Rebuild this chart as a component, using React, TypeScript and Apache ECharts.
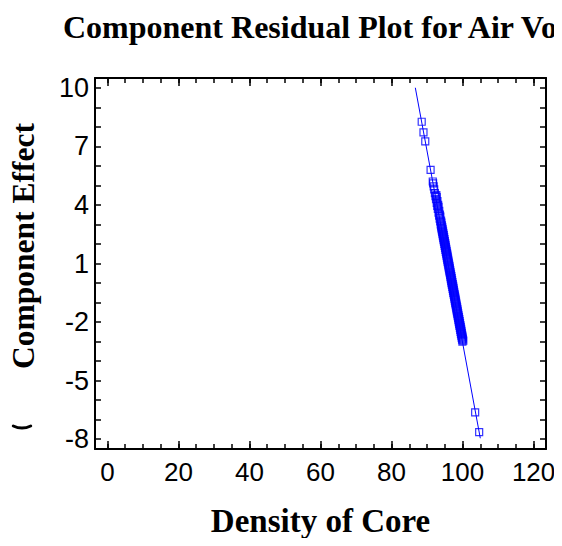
import React, { useEffect, useRef } from "react";
import * as echarts from "echarts";

const xMajorTicks = [0, 20, 40, 60, 80, 100, 120];
const xMinorTicks = [0, 5, 10, 15, 20, 25, 30, 35, 40, 45, 50, 55, 60, 65, 70, 75, 80, 85, 90, 95, 100, 105, 110, 115, 120];
const yLabelTicks = [-8, -5, -2, 1, 4, 7, 10];
const yAllTicks = [-8, -7, -6, -5, -4, -3, -2, -1, 0, 1, 2, 3, 4, 5, 6, 7, 8, 9, 10];

const densityOfCore = [
  88.5, 89.0, 89.5, 91.0,
  91.61, 91.71, 91.87, 92.02, 92.22, 92.38, 92.53, 92.73, 92.88, 93.04, 93.24, 93.39, 93.55, 93.7, 93.85,
  93.95, 94.05, 94.16, 94.26, 94.36, 94.46, 94.56, 94.66, 94.77, 94.87, 94.97, 95.07, 95.17, 95.28, 95.38,
  95.48, 95.58, 95.68, 95.78, 95.89, 95.99, 96.09, 96.19, 96.29, 96.4, 96.5, 96.6, 96.7, 96.8, 96.9,
  97.0, 97.11, 97.21, 97.31, 97.41, 97.51, 97.62, 97.72, 97.82, 97.92, 98.02, 98.13, 98.23, 98.33, 98.43,
  98.53, 98.63, 98.74, 98.84, 98.94, 99.04, 99.14, 99.25, 99.35, 99.45, 99.55, 99.65, 99.75, 99.86, 99.96,
  92.62, 92.73, 92.93, 93.13, 93.24, 93.44, 93.64, 93.74, 93.95, 94.05,
  94.2, 94.3, 94.41, 94.51, 94.61, 94.71, 94.81, 94.91, 95.02, 95.12, 95.22, 95.32, 95.42, 95.53, 95.63,
  95.73, 95.83, 95.93, 96.03, 96.14, 96.24, 96.34, 96.44, 96.54, 96.65, 96.75, 96.85, 96.95, 97.05, 97.15,
  97.25, 97.36, 97.46, 97.56, 97.66, 97.76, 97.87, 97.97, 98.07, 98.17, 98.27, 98.38, 98.48, 98.58, 98.68,
  98.78, 98.88, 98.99, 99.09, 99.19, 99.29, 99.39, 99.5, 99.6, 99.7, 99.8, 99.9, 100.0, 100.11, 100.21,
  103.55, 104.68,
];
const componentEffect = [
  8.26, 7.72, 7.25, 5.79,
  5.2, 5.1, 4.95, 4.8, 4.6, 4.45, 4.3, 4.1, 3.95, 3.8, 3.6, 3.45, 3.3, 3.15, 3.0,
  2.9, 2.8, 2.7, 2.6, 2.5, 2.4, 2.3, 2.2, 2.1, 2.0, 1.9, 1.8, 1.7, 1.6, 1.5,
  1.4, 1.3, 1.2, 1.1, 1.0, 0.9, 0.8, 0.7, 0.6, 0.5, 0.4, 0.3, 0.2, 0.1, 0.0,
  -0.1, -0.2, -0.3, -0.4, -0.5, -0.6, -0.7, -0.8, -0.9, -1.0, -1.1, -1.2, -1.3, -1.4, -1.5,
  -1.6, -1.7, -1.8, -1.9, -2.0, -2.1, -2.2, -2.3, -2.4, -2.5, -2.6, -2.7, -2.8, -2.9, -3.0,
  4.5, 4.4, 4.2, 4.0, 3.9, 3.7, 3.5, 3.4, 3.2, 3.1,
  2.95, 2.85, 2.75, 2.65, 2.55, 2.45, 2.35, 2.25, 2.15, 2.05, 1.95, 1.85, 1.75, 1.65, 1.55,
  1.45, 1.35, 1.25, 1.15, 1.05, 0.95, 0.85, 0.75, 0.65, 0.55, 0.45, 0.35, 0.25, 0.15, 0.05,
  -0.05, -0.15, -0.25, -0.35, -0.45, -0.55, -0.65, -0.75, -0.85, -0.95, -1.05, -1.15, -1.25, -1.35, -1.45,
  -1.55, -1.65, -1.75, -1.85, -1.95, -2.05, -2.15, -2.25, -2.35, -2.45, -2.55, -2.65, -2.75, -2.85, -2.95,
  -6.62, -7.64,
];
const fitLineX = [86.7, 105.0];
const fitLineY = [10.0, -7.95];

const X_MIN = -3.5;
const X_MAX = 123.5;
const Y_MIN = -8.5;
const Y_MAX = 10.5;

const serif = '"Liberation Serif", "Times New Roman", serif';
const sans = '"Liberation Sans", Arial, sans-serif';

export default function App() {
  const ref = useRef<HTMLDivElement>(null);
  useEffect(() => {
    if (!ref.current) return;
    const chart = echarts.init(ref.current, null, { renderer: "svg" });
    const black = "#000000";
    const blue = "#0000FF";
    const baseX = {
      type: "value" as const,
      min: X_MIN,
      max: X_MAX,
      splitLine: { show: false },
      axisLabel: { show: false },
    };
    const baseY = {
      type: "value" as const,
      min: Y_MIN,
      max: Y_MAX,
      splitLine: { show: false },
      axisLabel: { show: false },
    };
    chart.setOption({
      animation: false,
      backgroundColor: "#ffffff",
      title: {
        text: "Component Residual Plot for Air Vo",
        left: 58,
        top: 6,
        textStyle: { fontFamily: serif, fontWeight: "bold", fontSize: 32, color: black },
      },
      grid: { left: 95, right: 16, top: 78, bottom: 97, show: false },
      xAxis: [
        {
          ...baseX,
          position: "bottom",
          axisLine: { show: true, onZero: false, lineStyle: { color: black, width: 2 } },
          axisTick: { show: true, inside: true, length: 8, customValues: xMajorTicks, lineStyle: { color: black, width: 1.5 } },
          axisLabel: { show: true, customValues: xMajorTicks, fontFamily: sans, fontSize: 26, color: black, margin: 10 },
          name: "Density of Core",
          nameLocation: "middle",
          nameGap: 55,
          nameTextStyle: { fontFamily: serif, fontWeight: "bold", fontSize: 33, color: black },
        },
        {
          ...baseX,
          position: "bottom",
          axisLine: { show: false, onZero: false },
          axisTick: { show: true, inside: true, length: 5, customValues: xMinorTicks, lineStyle: { color: black, width: 1.5 } },
        },
        {
          ...baseX,
          position: "top",
          axisLine: { show: true, onZero: false, lineStyle: { color: black, width: 2 } },
          axisTick: { show: true, inside: true, length: 8, customValues: xMajorTicks, lineStyle: { color: black, width: 1.5 } },
        },
        {
          ...baseX,
          position: "top",
          axisLine: { show: false, onZero: false },
          axisTick: { show: true, inside: true, length: 5, customValues: xMinorTicks, lineStyle: { color: black, width: 1.5 } },
        },
      ],
      yAxis: [
        {
          ...baseY,
          position: "left",
          axisLine: { show: true, onZero: false, lineStyle: { color: black, width: 2 } },
          axisTick: { show: true, inside: true, length: 6, customValues: yAllTicks, lineStyle: { color: black, width: 1.5 } },
          axisLabel: { show: true, customValues: yLabelTicks, fontFamily: sans, fontSize: 27, color: black, margin: 6 },
        },
        {
          ...baseY,
          position: "right",
          axisLine: { show: true, onZero: false, lineStyle: { color: black, width: 2 } },
          axisTick: { show: true, inside: true, length: 6, customValues: yAllTicks, lineStyle: { color: black, width: 1.5 } },
        },
      ],
      graphic: [
        {
          type: "text",
          x: 23,
          y: 246,
          rotation: Math.PI / 2,
          style: { text: "Component Effect", font: `bold 31.5px ${serif}`, fill: black, align: "center", verticalAlign: "middle" },
        },
        {
          type: "arc",
          shape: { cx: 22, cy: 408, r: 20, startAngle: Math.PI / 2 - 0.45, endAngle: Math.PI / 2 + 0.45, clockwise: true },
          style: { stroke: black, lineWidth: 3, fill: "none", lineCap: "round" },
        },
      ],
      series: [
        {
          type: "line",
          xAxisIndex: 0,
          yAxisIndex: 0,
          data: fitLineX.map((x, i) => [x, fitLineY[i]]),
          symbol: "none",
          lineStyle: { color: blue, width: 1 },
          silent: true,
        },
        {
          type: "scatter",
          xAxisIndex: 0,
          yAxisIndex: 0,
          data: densityOfCore.map((x, i) => [x, componentEffect[i]]),
          symbol: "rect",
          symbolSize: 7,
          itemStyle: { color: "rgba(0,0,0,0)", borderColor: blue, borderWidth: 1.2 },
        },
      ],
    });
    return () => chart.dispose();
  }, []);
  return <div ref={ref} style={{ width: 562, height: 546, margin: -8 }} />;
}
